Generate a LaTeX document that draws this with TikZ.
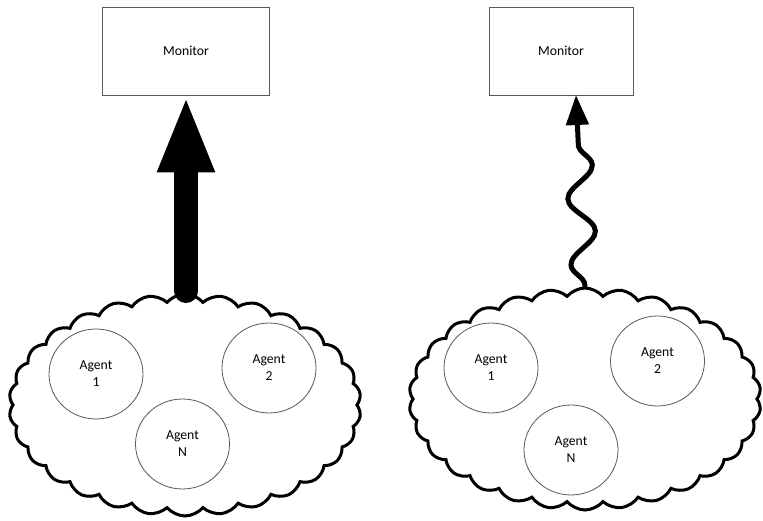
\documentclass[tikz,border=0pt]{standalone}
\usepackage{fontspec}
\setmainfont{Carlito}
\usetikzlibrary{shapes.symbols,shapes.geometric,arrows.meta,decorations.pathmorphing}
\begin{document}
\begin{tikzpicture}[x=1pt,y=-1pt,
  every node/.style={font=\fontsize{13.7}{17}\selectfont},
  monbox/.style={draw=black!65,line width=0.9pt,fill=white,minimum width=167pt,minimum height=88pt,inner sep=0pt},
  agentc/.style={ellipse,draw=black!65,line width=0.8pt,minimum width=94pt,minimum height=90pt,inner sep=0pt,align=center},
  cloudy/.style={cloud,cloud puffs=30,cloud puff arc=100,aspect=1.6,draw,line width=3pt,fill=white,minimum width=352pt,minimum height=222pt,inner sep=0pt},
  bigarrow/.style={line width=24pt,line cap=round,-{Triangle[width=52pt,length=77pt]}},
  wavyarrow/.style={line width=5pt,-{Triangle[width=22pt,length=30pt]},decorate,decoration={snake,amplitude=13pt,segment length=66pt,post length=30pt,pre length=2pt}}]
\useasboundingbox (0,0) rectangle (763,521);
% left
\node[monbox] (monL) at (186,51) {Monitor};
\node[cloudy] (cloudL) at (185,405) {};
\node[agentc] (a1L) at (96,374) {Agent\\1};
\node[agentc] (a2L) at (269,368) {Agent\\2};
\node[agentc] (aNL) at (182.5,444) {Agent\\N};
\coordinate (startL) at (186,291);
\draw[bigarrow] (startL) -- (monL.south);
% right
\node[monbox,minimum width=144pt] (monR) at (561,51) {Monitor};
\node[cloudy] (cloudR) at (585,399) {};
\node[agentc] (a1R) at (491,368) {Agent\\1};
\node[agentc] (a2R) at (657.5,361) {Agent\\2};
\node[agentc] (aNR) at (571,450) {Agent\\N};
\coordinate (startR) at (585,287);
\coordinate (tipR) at (576,95);
\draw[wavyarrow] (startR) -- (tipR);
\end{tikzpicture}
\end{document}
